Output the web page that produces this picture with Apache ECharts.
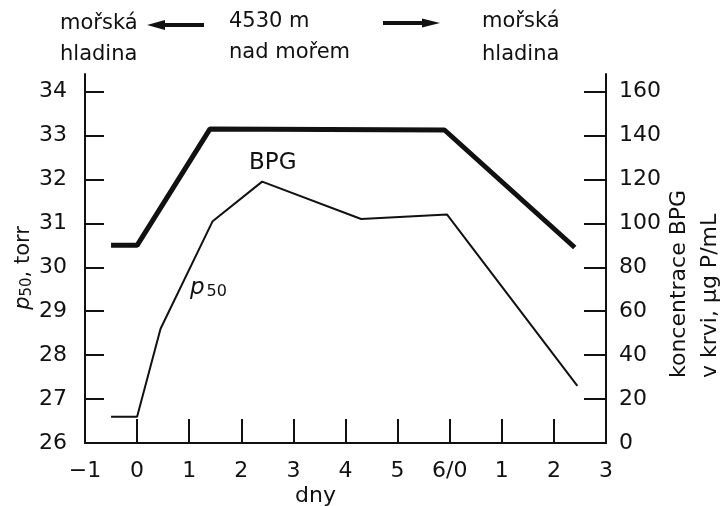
<!DOCTYPE html>
<html>
<head>
<meta charset="utf-8">
<script src="https://cdn.jsdelivr.net/npm/echarts@6/dist/echarts.min.js"></script>
<style>html,body{margin:0;padding:0;background:#fff}#c{width:721px;height:506px}</style>
</head>
<body>
<div id="c"></div>
<script>
// ---- data ----
const bpgDays = [-0.5, 0, 1.4, 5.9, 8.4];
const bpgValues = [90, 90, 143, 142.5, 89];            // µg P/mL (right axis)
const p50Days = [-0.5, 0, 0.45, 1.45, 2.4, 4.3, 5.95, 8.45];
const p50Values = [26.6, 26.6, 28.6, 31.05, 31.95, 31.1, 31.2, 27.3]; // torr (left axis)
const xTickPositions = [-1, 0, 1, 2, 3, 4, 5, 6, 7, 8, 9];
const xTickLabels = ['\u22121', '0', '1', '2', '3', '4', '5', '6/0', '1', '2', '3'];
const leftTicks = [26, 27, 28, 29, 30, 31, 32, 33, 34];
const rightTicks = [0, 20, 40, 60, 80, 100, 120, 140, 160];

const FONT = 'DejaVu Sans';
const INK = '#111';

const chart = echarts.init(document.getElementById('c'), null, {renderer: 'canvas'});

function zip(xs, ys) { return xs.map((x, i) => [x, ys[i]]); }

function txt(text, x, y, size, extra) {
  return {
    type: 'text', x: x, y: y,
    style: Object.assign({text: text, fill: INK, font: size + 'px "' + FONT + '"',
      textAlign: 'left', textVerticalAlign: 'middle'}, extra || {})
  };
}

const option = {
  animation: false,
  backgroundColor: '#fff',
  grid: {left: 85, right: 115, top: 74, bottom: 63, containLabel: false},
  xAxis: {
    type: 'value', min: -1, max: 9,
    axisLine: {show: true, onZero: false, lineStyle: {color: INK, width: 2}},
    axisTick: {show: true, inside: true, length: 24, lineStyle: {color: INK, width: 2},
      customValues: xTickPositions.slice(1, -1)},
    axisLabel: {show: true, margin: 17, color: INK, fontFamily: FONT, fontSize: 22,
      customValues: xTickPositions,
      formatter: v => { const i = xTickPositions.indexOf(Math.round(v)); return i >= 0 ? xTickLabels[i] : ''; }},
    splitLine: {show: false}
  },
  yAxis: [{
    type: 'value', min: 26, max: 34.4, position: 'left',
    axisLine: {show: true, onZero: false, lineStyle: {color: INK, width: 2}},
    axisTick: {show: true, inside: true, length: 19, lineStyle: {color: INK, width: 2},
      customValues: leftTicks.slice(1)},
    axisLabel: {show: true, margin: 18, color: INK, fontFamily: FONT, fontSize: 22,
      customValues: leftTicks},
    splitLine: {show: false}
  }, {
    type: 'value', min: 0, max: 168, position: 'right',
    axisLine: {show: true, onZero: false, lineStyle: {color: INK, width: 2}},
    axisTick: {show: true, inside: true, length: 22, lineStyle: {color: INK, width: 2},
      customValues: rightTicks.slice(1)},
    axisLabel: {show: true, margin: 13, color: INK, fontFamily: FONT, fontSize: 22,
      customValues: rightTicks},
    splitLine: {show: false}
  }],
  series: [{
    name: 'BPG', type: 'line', yAxisIndex: 1, data: zip(bpgDays, bpgValues),
    showSymbol: false, symbol: 'none', lineStyle: {color: INK, width: 5}, z: 3
  }, {
    name: 'p50', type: 'line', yAxisIndex: 0, data: zip(p50Days, p50Values),
    showSymbol: false, symbol: 'none', lineStyle: {color: INK, width: 2}, z: 3
  }],
  graphic: [
    // header texts
    txt('mořská', 60, 24, 21),
    txt('hladina', 60, 55, 21),
    txt('4530 m', 229, 22, 21),
    txt('nad mořem', 229, 53, 21),
    txt('mořská', 482, 22, 21),
    txt('hladina', 482, 55, 21),
    // left arrow
    {type: 'line', shape: {x1: 158, y1: 25, x2: 204, y2: 25}, style: {stroke: INK, lineWidth: 4}},
    {type: 'polygon', shape: {points: [[147, 25], [165, 20], [165, 30]]}, style: {fill: INK}},
    // right arrow
    {type: 'line', shape: {x1: 383, y1: 23, x2: 430, y2: 23}, style: {stroke: INK, lineWidth: 4}},
    {type: 'polygon', shape: {points: [[440, 23], [422, 18.5], [422, 27.5]]}, style: {fill: INK}},
    // in-plot labels
    txt('BPG', 249, 163, 23),
    {type: 'text', x: 190, y: 288, style: {
      text: '{i|p}{s|50}', fill: INK, textAlign: 'left', textVerticalAlign: 'middle',
      rich: {i: {fontFamily: FONT, fontSize: 23, fontStyle: 'italic', fill: INK},
             s: {fontFamily: FONT, fontSize: 16, fill: INK, padding: [8, 0, 0, 2]}}}},
    // left axis title
    {type: 'text', x: 24, y: 268, rotation: Math.PI / 2, style: {
      text: '{i|p}{s|50}{n|, torr}', fill: INK, textAlign: 'center', textVerticalAlign: 'middle',
      rich: {i: {fontFamily: FONT, fontSize: 21, fontStyle: 'italic', fill: INK},
             s: {fontFamily: FONT, fontSize: 15, fill: INK, padding: [6, 0, 0, 0]},
             n: {fontFamily: FONT, fontSize: 21, fill: INK}}}},
    // right axis title
    {type: 'text', x: 695, y: 378, rotation: Math.PI / 2, style: {
      text: 'koncentrace BPG\nv krvi, µg P/mL', fill: INK, font: '22px "' + FONT + '"',
      lineHeight: 31, textAlign: 'left', textVerticalAlign: 'middle'}},
    // x axis title
    txt('dny', 295, 496, 22)
  ]
};
chart.setOption(option);
</script>
</body>
</html>
